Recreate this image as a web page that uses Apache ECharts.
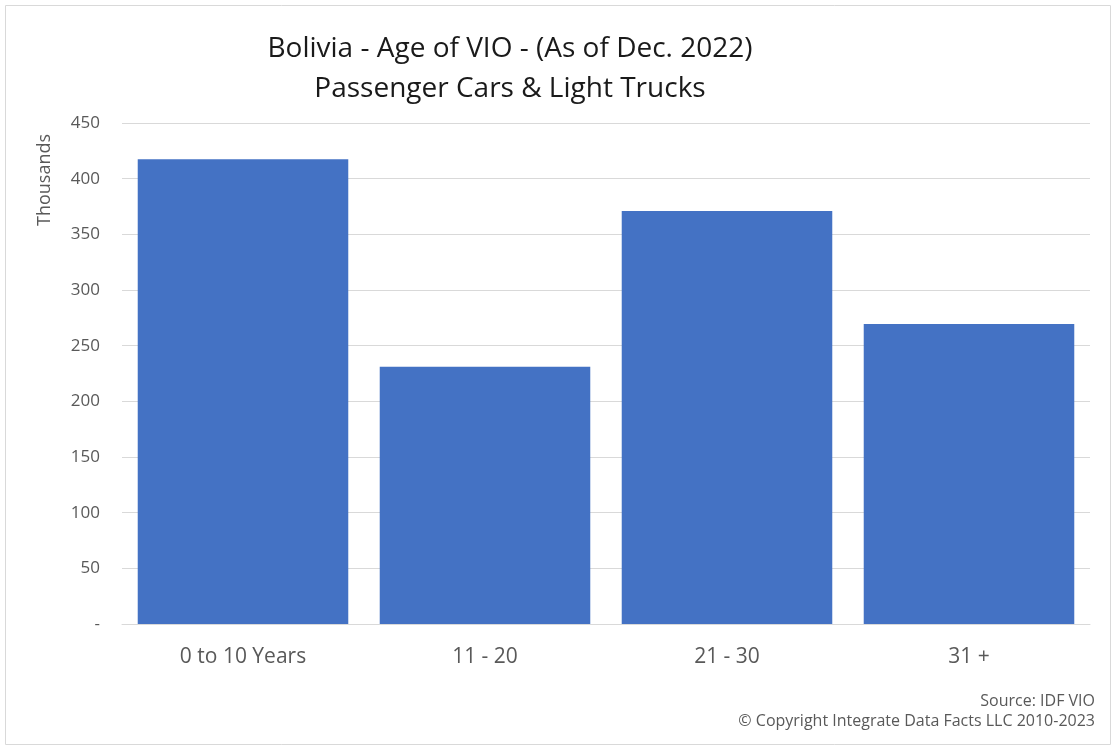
<!DOCTYPE html>
<html><head><meta charset="utf-8">
<script src="https://cdn.jsdelivr.net/npm/echarts@6/dist/echarts.min.js"></script>
<style>html,body{margin:0;padding:0;background:#fff}#c{width:1114px;height:749px}</style>
</head><body><div id="c"></div>
<script>
const categories = ['0 to 10 Years', '11 - 20', '21 - 30', '31 +'];
const values = [417.5, 231, 371, 269.5];
const titleLines = ['Bolivia - Age of VIO - (As of Dec. 2022)', 'Passenger Cars & Light Trucks'];
const axisName = 'Thousands';
const footer = ['Source: IDF VIO', '© Copyright Integrate Data Facts LLC 2010-2023'];
const font = 'Open Sans';
const chart = echarts.init(document.getElementById('c'), null, {renderer: 'canvas'});
chart.setOption({
  animation: false,
  title: {
    text: titleLines.join('\n'), left: 505, top: 24, textAlign: 'center',
    textStyle: {fontFamily: font, fontSize: 28, fontWeight: 'normal', color: '#1a1a1a', lineHeight: 40}
  },
  graphic: [
    {type: 'rect', shape: {x: 5.5, y: 5.5, width: 1105, height: 739}, style: {fill: 'none', stroke: '#d9d9d9', lineWidth: 1}},
    {type: 'text', x: 45, y: 180, rotation: Math.PI / 2,
      style: {text: axisName, font: '18px "' + font + '"', fill: '#595959', align: 'center', verticalAlign: 'middle'}},
    {type: 'text', right: 19, top: 693, style: {text: footer[0], font: '16px "' + font + '"', fill: '#595959', textAlign: 'right'}},
    {type: 'text', right: 19, top: 713, style: {text: footer[1], font: '16px "' + font + '"', fill: '#595959', textAlign: 'right'}}
  ],
  grid: {left: 122, right: 24, top: 123, bottom: 125},
  xAxis: {
    type: 'category', data: categories,
    axisLine: {lineStyle: {color: '#d9d9d9'}}, axisTick: {show: false},
    axisLabel: {fontFamily: font, fontSize: 21, color: '#595959', margin: 23}
  },
  yAxis: {
    type: 'value', min: 0, max: 450, interval: 50,
    axisLine: {show: false}, axisTick: {show: false},
    splitLine: {lineStyle: {color: '#d9d9d9'}},
    axisLabel: {fontFamily: font, fontSize: 17, color: '#595959', margin: 22,
      formatter: v => v === 0 ? '-' : String(v)}
  },
  series: [{
    type: 'bar', data: values, barCategoryGap: '13%',
    itemStyle: {color: '#4472c4'}
  }]
});
</script></body></html>
